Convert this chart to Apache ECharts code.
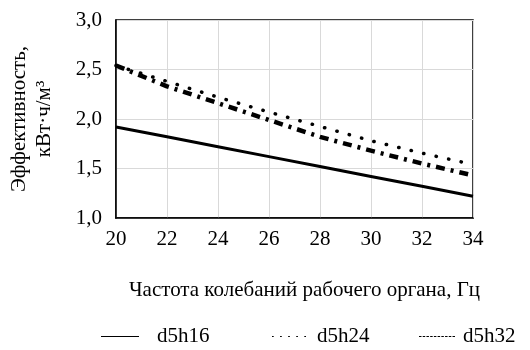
<!DOCTYPE html>
<html>
<head>
<meta charset="utf-8">
<script src="https://cdn.jsdelivr.net/npm/echarts@6/dist/echarts.min.js"></script>
<style>
html,body{margin:0;padding:0;background:#fff;}
#chart{width:530px;height:350px;}
</style>
</head>
<body>
<div id="chart"></div>
<script>
var freq = [20, 22, 24, 26, 28, 30, 32, 34];
var d5h16 = [1.92, 1.82, 1.72, 1.62, 1.52, 1.42, 1.32, 1.22];
var d5h24 = [2.54, 2.38, 2.22, 2.07, 1.925, 1.78, 1.655, 1.54];
var d5h32 = [2.54, 2.33, 2.16, 1.99, 1.82, 1.68, 1.55, 1.43];
var seriesNames = ['d5h16', 'd5h24', 'd5h32'];
var xTicks = [20, 22, 24, 26, 28, 30, 32, 34];
var yTicks = ['1,0', '1,5', '2,0', '2,5', '3,0'];

function pairs(ys) { return freq.map(function (x, i) { return [x, ys[i]]; }); }

// legend sample glyphs (icon shapes only)
function dashPath(total, dash, gap) {
  var p = '', x = 0;
  while (x + dash <= total + 0.01) { p += 'M' + x + ',0h' + dash + 'v1h-' + dash + 'z'; x += dash + gap; }
  return 'path://' + p;
}
var iconSolid = 'path://M0,0h38v1h-38z';
var iconDotted = dashPath(34, 1.5, 5.6);
var iconDashed = dashPath(36, 2.4, 1.2);

var FONT = '"Liberation Serif", "Times New Roman", serif';
function legendAt(name, icon, left, w, pad) {
  return {
    orient: 'horizontal', top: 326, left: left, width: 200, padding: 0,
    itemWidth: w, itemHeight: 1.2, itemGap: 0,
    textStyle: { fontFamily: FONT, fontSize: 21, color: '#000', padding: [0, 0, 0, pad] },
    data: [{ name: name, icon: icon, itemStyle: { color: '#000' } }]
  };
}
var chart = echarts.init(document.getElementById('chart'));
chart.setOption({
  animation: false,
  backgroundColor: '#fff',
  textStyle: { fontFamily: FONT, color: '#000' },
  grid: { left: 116, right: 57, top: 20, bottom: 132, show: true, borderColor: '#000', borderWidth: 1.5, containLabel: false, outerBoundsMode: 'none' },
  xAxis: {
    type: 'value', min: 20, max: 34, interval: 2,
    name: 'Частота колебаний рабочего органа, Гц',
    nameLocation: 'middle', nameGap: 62,
    nameTextStyle: { fontFamily: FONT, fontSize: 21, color: '#000', padding: [0, 0, 0, 20] },
    axisLine: { show: true, lineStyle: { color: '#000', width: 1.5 } },
    axisTick: { show: false },
    axisLabel: { fontFamily: FONT, fontSize: 21, color: '#000', margin: 11,
      formatter: function (v) { return xTicks.indexOf(v) >= 0 ? String(v) : ''; } },
    splitLine: { show: true, lineStyle: { color: '#d9d9d9', width: 1 } }
  },
  yAxis: {
    type: 'value', min: 1, max: 3, interval: 0.5,
    name: 'Эффективность,\nкВт·ч/м³',
    nameLocation: 'middle', nameGap: 59, nameRotate: 90,
    nameTextStyle: { fontFamily: FONT, fontSize: 21, color: '#000', lineHeight: 25, align: 'center' },
    axisLine: { show: true, lineStyle: { color: '#000', width: 1.5 } },
    axisTick: { show: false },
    axisLabel: { fontFamily: FONT, fontSize: 21, color: '#000', margin: 14,
      formatter: function (v) { return yTicks[Math.round((v - 1) / 0.5)]; } },
    splitLine: { show: true, lineStyle: { color: '#d9d9d9', width: 1 } }
  },
  legend: [
    legendAt(seriesNames[0], iconSolid, 101, 38, 13),
    legendAt(seriesNames[1], iconDotted, 272, 34, 6),
    legendAt(seriesNames[2], iconDashed, 419, 36, 3)
  ],
  series: [
    { name: seriesNames[0], type: 'line', data: pairs(d5h16), symbol: 'none', showSymbol: false,
      lineStyle: { color: '#000', width: 3, type: 'solid' }, itemStyle: { color: '#000' } },
    { name: seriesNames[1], type: 'line', data: pairs(d5h24), symbol: 'none', showSymbol: false,
      lineStyle: { color: '#000', width: 3.5, type: [0.3, 12.5], cap: 'round' }, itemStyle: { color: '#000' } },
    { name: seriesNames[2], type: 'line', data: pairs(d5h32), symbol: 'none', showSymbol: false,
      lineStyle: { color: '#000', width: 4.5, type: [9, 6, 3, 6], cap: 'butt' }, itemStyle: { color: '#000' } }
  ]
});
</script>
</body>
</html>
